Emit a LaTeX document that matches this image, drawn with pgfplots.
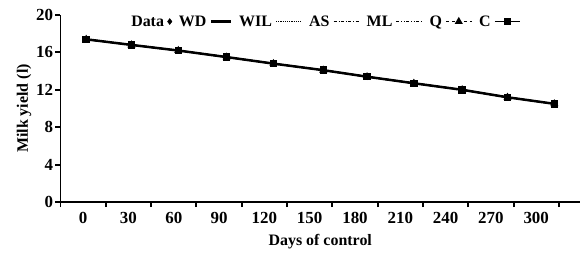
\documentclass[border=0pt]{standalone}
\usepackage{fontspec}
\setmainfont{Liberation Serif}
\usepackage{pgfplots}
\pgfplotsset{compat=1.18}
\usepackage{pgfplotstable}

\pgfplotstableread{
x y
2 17.4
32 16.8
63 16.2
95 15.5
126 14.8
159 14.1
188 13.4
219 12.7
251 12.0
281 11.2
312 10.5
}\milk

\pgfplotsset{
  dataimage/.style={legend image code/.code={\draw[##1] plot coordinates {(0.12cm,0cm)};}},
  shortimage/.style={legend image code/.code={\draw[##1] (0cm,0cm) -- (0.7cm,0cm);}},
}

\begin{document}
\begin{tikzpicture}
\useasboundingbox (-60.5bp,-52bp) rectangle (525.5bp,202bp);
\begin{axis}[
  at={(0,0)}, anchor=south west,
  scale only axis,
  width=519.5bp, height=187bp,
  xmin=-15, xmax=329,
  ymin=0, ymax=20,
  axis x line=bottom, axis y line=left,
  axis line style={-, line width=2pt},
  xtick={-15,15,...,315},
  xticklabels={0,30,60,90,120,150,180,210,240,270,300},
  x tick label as interval,
  ytick={0,4,...,20},
  tick align=outside,
  major tick length=5bp,
  tick style={line width=2pt, black},
  font=\fontsize{17}{19}\selectfont\bfseries,
  tick label style={font=\fontsize{17}{19}\selectfont\bfseries},
  /pgf/number format/assume math mode=true,
  xlabel={Days of control},
  ylabel={Milk yield (l)},
  xlabel style={yshift=-3bp, font=\fontsize{16}{18}\selectfont\bfseries},
  ylabel style={yshift=-2bp, font=\fontsize{16}{18}\selectfont\bfseries},
  xticklabel style={yshift=-2bp},
  yticklabel style={xshift=1bp},
  legend plot pos=right,
  legend columns=-1,
  legend style={draw=none, fill=none, at={(0.132,0.965)}, anchor=west,
    font=\fontsize{16}{18}\selectfont\bfseries, inner sep=0pt,
    /tikz/every even column/.append style={column sep=5pt},
    /tikz/every odd column/.append style={column sep=1.5pt}},
  legend image code/.code={%
    \draw[mark repeat=2,mark phase=2,#1] plot coordinates {(0cm,0cm) (0.45cm,0cm) (0.9cm,0cm)};},
]
\addplot[only marks, mark=diamond*, mark size=3pt, black, dataimage] table {\milk};
\addlegendentry{Data}
\addplot[solid, line width=2.5pt, black, shortimage] table {\milk};
\addlegendentry{WD}
\addplot[densely dotted, line width=1.2pt, black] table {\milk};
\addlegendentry{WIL}
\addplot[dashdotted, line width=1.2pt, black] table {\milk};
\addlegendentry{AS}
\addplot[dashdotdotted, line width=1.2pt, black] table {\milk};
\addlegendentry{ML}
\addplot[dashed, line width=1.2pt, black, mark=triangle*, mark size=3.5pt, mark options={solid}] table {\milk};
\addlegendentry{Q}
\addplot[solid, line width=1.5pt, black, mark=square*, mark size=3pt] table {\milk};
\addlegendentry{C}
\end{axis}
\end{tikzpicture}
\end{document}
